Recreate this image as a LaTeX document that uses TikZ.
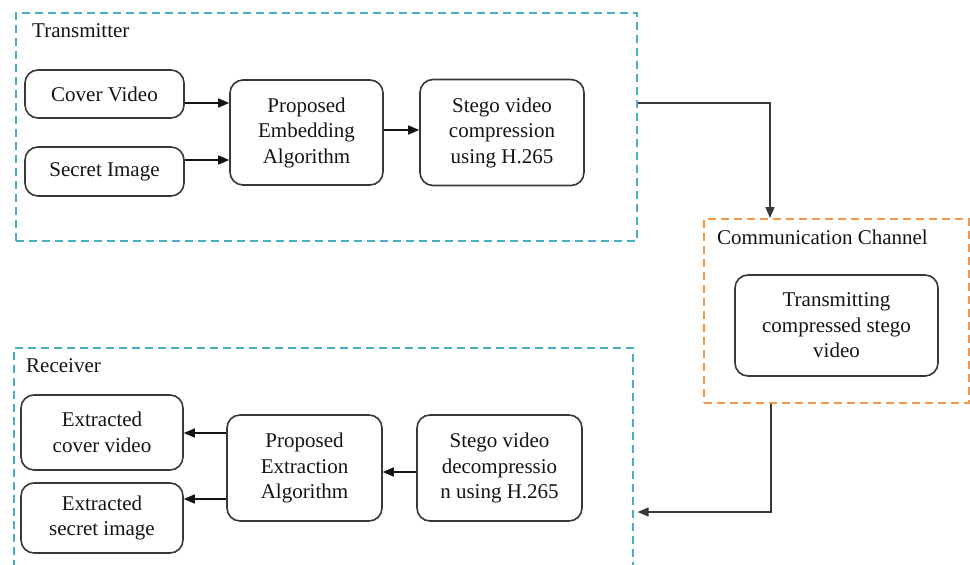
\documentclass[tikz,border=0pt]{standalone}
\usepackage{fontspec}
\setmainfont{Liberation Serif}
\usetikzlibrary{arrows.meta,calc}
\definecolor{boxblue}{HTML}{4BACC6}
\definecolor{boxorange}{HTML}{F79646}
\definecolor{ink}{HTML}{141414}
\definecolor{edge}{HTML}{383838}
\begin{document}
\begin{tikzpicture}[x=1pt,y=-1pt,
  font=\fontsize{21}{25.5}\selectfont,
  procbox/.style={draw=edge, line width=1.6pt, rounded corners=13pt, align=center,
    text=ink, inner sep=0pt},
  group/.style={line width=1.6pt, dash pattern=on 8pt off 5pt, inner sep=0pt, anchor=north west},
  grouplabel/.style={anchor=west, text=ink, inner sep=0pt},
  arr/.style={draw=ink, line width=1.6pt, -{Triangle[length=11pt,width=9pt]}},
  conn/.style={draw=edge, line width=1.6pt, -{Triangle[length=11pt,width=9pt]}}]
\useasboundingbox (0,0) rectangle (970,565);
\clip (0,0) rectangle (970,565);

% containers
\node[group, draw=boxblue, minimum width=621pt, minimum height=228pt] (tx) at (15,12) {};
\node[group, draw=boxorange, minimum width=265pt, minimum height=184pt] (comm) at (703,218) {};
\node[group, draw=boxblue, minimum width=619pt, minimum height=240pt] (rx) at (13,347) {};

\node[grouplabel] (txl) at (32,31) {Transmitter};
\node[grouplabel] (comml) at (717,237) {Communication Channel};
\node[grouplabel] (rxl) at (26,366) {Receiver};

% transmitter
\node[procbox, minimum width=159pt, minimum height=48pt] (cv) at (104.5,94) {Cover Video};
\node[procbox, minimum width=159pt, minimum height=49pt] (si) at (104.5,171.5) {Secret Image};
\node[procbox, minimum width=153pt, minimum height=105pt] (emb) at (306.5,132.5) {Proposed\\Embedding\\Algorithm};
\node[procbox, minimum width=164pt, minimum height=106pt] (cmp) at (502,132.5) {Stego video\\compression\\using H.265};

% channel
\node[procbox, minimum width=203pt, minimum height=101pt] (trans) at (836.5,325.5) {Transmitting\\compressed stego\\video};

% receiver
\node[procbox, minimum width=162pt, minimum height=75pt] (ecv) at (102,432.5) {Extracted\\cover video};
\node[procbox, minimum width=162pt, minimum height=70pt] (esi) at (102,518) {Extracted\\secret image};
\node[procbox, minimum width=155pt, minimum height=106pt] (ext) at (304.5,468) {Proposed\\Extraction\\Algorithm};
\node[procbox, minimum width=165pt, minimum height=106pt] (dec) at (499.5,468) {Stego video\\decompressio\\n using H.265};

% connectors
\draw[arr] (cv.east |- 0,103) -- (emb.west |- 0,103);
\draw[arr] (si.east |- 0,160) -- (emb.west |- 0,160);
\draw[arr] (emb.east |- 0,130) -- (cmp.west |- 0,130);
\draw[conn] (tx.east |- 0,103) -| (comm.north -| 770,0);
\draw[conn] (comm.south -| 771,0) |- ($(rx.east |- 0,512)+(4,0)$);
\draw[arr] (ext.west |- 0,433) -- (ecv.east |- 0,433);
\draw[arr] (ext.west |- 0,499) -- (esi.east |- 0,499);
\draw[arr] (dec.west |- 0,472) -- (ext.east |- 0,472);
\end{tikzpicture}
\end{document}
